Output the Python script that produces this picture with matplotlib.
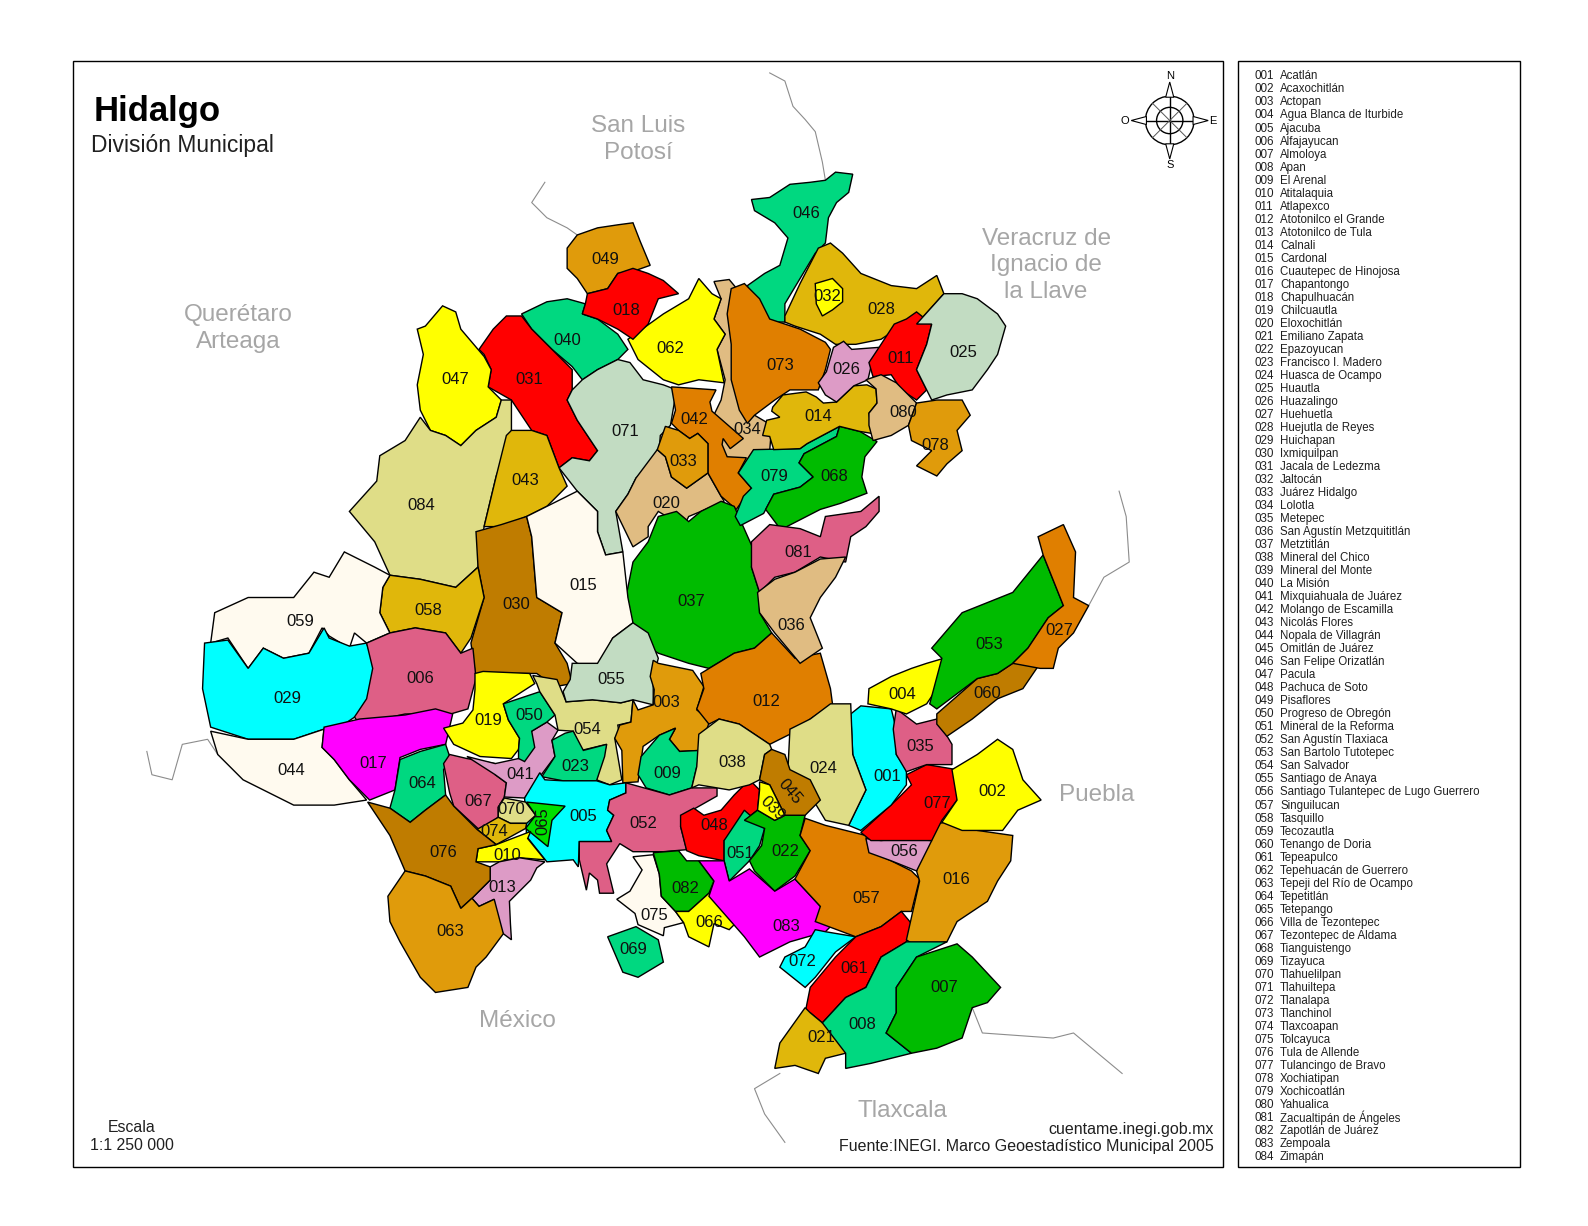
import matplotlib
matplotlib.use('Agg')
import matplotlib.pyplot as plt
from matplotlib.patches import Polygon, Circle, Rectangle

plt.rcParams['font.family'] = ['Liberation Sans', 'DejaVu Sans']

# coordinates are map units (y grows downward)
SHEET_W = 1568
SHEET_H = 1210.6

names = ["Acatlán", "Acaxochitlán", "Actopan", "Agua Blanca de Iturbide", "Ajacuba", "Alfajayucan", "Almoloya",
         "Apan", "El Arenal", "Atitalaquia", "Atlapexco", "Atotonilco el Grande", "Atotonilco de Tula", "Calnali",
         "Cardonal", "Cuautepec de Hinojosa", "Chapantongo", "Chapulhuacán", "Chilcuautla", "Eloxochitlán",
         "Emiliano Zapata", "Epazoyucan", "Francisco I. Madero", "Huasca de Ocampo", "Huautla", "Huazalingo",
         "Huehuetla", "Huejutla de Reyes", "Huichapan", "Ixmiquilpan", "Jacala de Ledezma", "Jaltocán",
         "Juárez Hidalgo", "Lolotla", "Metepec", "San Agustín Metzquititlán", "Metztitlán", "Mineral del Chico",
         "Mineral del Monte", "La Misión", "Mixquiahuala de Juárez", "Molango de Escamilla", "Nicolás Flores",
         "Nopala de Villagrán", "Omitlán de Juárez", "San Felipe Orizatlán", "Pacula", "Pachuca de Soto",
         "Pisaflores", "Progreso de Obregón", "Mineral de la Reforma", "San Agustín Tlaxiaca",
         "San Bartolo Tutotepec", "San Salvador", "Santiago de Anaya", "Santiago Tulantepec de Lugo Guerrero",
         "Singuilucan", "Tasquillo", "Tecozautla", "Tenango de Doria", "Tepeapulco", "Tepehuacán de Guerrero",
         "Tepeji del Río de Ocampo", "Tepetitlán", "Tetepango", "Villa de Tezontepec", "Tezontepec de Aldama",
         "Tianguistengo", "Tizayuca", "Tlahuelilpan", "Tlahuiltepa", "Tlanalapa", "Tlanchinol", "Tlaxcoapan",
         "Tolcayuca", "Tula de Allende", "Tulancingo de Bravo", "Xochiatipan", "Xochicoatlán", "Yahualica",
         "Zacualtipán de Ángeles", "Zapotlán de Juárez", "Zempoala", "Zimapán"]

# municipality outlines
m046 = [(742,197),(760,195),(780,182),(800,180),(815,178),(825,170),(842,172),(838,190),(826,200),(818,215),(815,240),(805,250),(790,275),(775,300),(775,318),(760,318),(740,295),(738,282),(755,270),(770,262),(778,235),(765,220),(745,208)]
m028 = [(775,312),(790,280),(808,245),(820,240),(832,250),(850,270),(880,282),(905,285),(925,272),(932,290),(905,320),(885,325),(870,335),(845,340),(825,340),(810,330),(785,322),(775,318)]
m032 = [(805,280),(822,275),(832,285),(832,298),(822,306),(812,312),(806,300)]
m034 = [(705,278),(720,276),(740,300),(745,410),(762,420),(760,445),(755,460),(735,465),(718,475),(705,470),(700,420),(712,395),(716,375),(708,345),(716,330),(705,315),(712,295)]
m073 = [(722,285),(735,280),(750,295),(760,315),(775,320),(790,325),(815,338),(820,345),(815,365),(808,385),(780,385),(765,395),(745,410),(738,418),(730,405),(722,375),(722,340),(718,310)]
m062 = [(620,335),(655,310),(680,295),(690,275),(703,290),(712,295),(705,315),(716,330),(708,345),(715,378),(690,375),(670,380),(655,375),(630,355)]
m049 = [(560,245),(570,232),(590,225),(610,222),(625,220),(632,238),(642,262),(625,268),(610,270),(600,285),(580,290),(570,275),(560,265)]
m040 = [(515,310),(540,298),(560,295),(578,300),(575,310),(590,315),(610,330),(620,345),(610,355),(590,365),(575,375),(565,362),(545,345),(525,325)]
m018 = [(578,300),(580,290),(600,285),(610,270),(625,265),(640,270),(655,277),(670,290),(650,295),(640,320),(625,335),(610,325),(590,315),(575,310)]
m031 = [(473,345),(487,325),(500,312),(515,312),(525,325),(545,345),(565,365),(565,385),(560,395),(570,415),(590,445),(582,455),(565,452),(552,462),(540,430),(525,425),(505,395),(482,382),(485,365),(478,350)]
m047 = [(412,325),(420,322),(437,302),(450,308),(455,325),(472,345),(478,352),(485,365),(482,382),(495,395),(490,412),(470,425),(455,440),(440,430),(425,425),(415,405),(412,380),(418,350)]
m071 = [(575,375),(590,365),(610,355),(622,358),(635,375),(655,380),(668,385),(662,420),(652,430),(650,455),(628,472),(620,488),(608,505),(615,545),(598,548),(590,525),(590,505),(570,485),(552,462),(565,452),(582,455),(590,445),(570,415),(560,395),(565,385)]
m020 = [(649,444),(657,451),(663,471),(678,482),(699,467),(712,490),(715,495),(692,505),(680,510),(675,520),(650,505),(640,520),(640,530),(625,540),(608,505),(620,488),(628,472)]
m042 = [(663,382),(707,385),(701,397),(703,406),(734,433),(721,443),(714,433),(713,439),(718,451),(737,452),(729,467),(742,482),(727,503),(712,490),(699,467),(699,438),(689,428),(681,433),(670,425),(663,418),(667,405)]
m033 = [(657,421),(670,425),(681,433),(689,428),(699,438),(699,467),(678,482),(663,471),(657,451),(649,444)]
m037 = [(650,510),(668,505),(680,515),(692,505),(712,495),(725,500),(745,545),(742,560),(750,585),(750,605),(762,625),(745,640),(725,645),(700,660),(680,655),(650,645),(625,630),(618,590),(625,555),(640,535)]
m079 = [(744,444),(790,443),(797,438),(829,421),(826,431),(794,448),(789,457),(803,471),(790,481),(764,488),(754,507),(731,519),(726,510),(734,490),(742,482),(729,467)]
m068 = [(829,421),(849,426),(866,436),(854,451),(851,471),(856,487),(830,497),(810,503),(771,523),(756,503),(764,488),(790,481),(803,471),(789,457),(794,448),(826,431)]
m014 = [(763,402),(773,390),(796,387),(806,392),(813,398),(826,397),(843,381),(856,380),(865,384),(866,398),(858,408),(861,428),(849,426),(829,421),(797,438),(790,443),(764,444),(760,431),(753,430),(757,415),(770,412),(762,406)]
m026 = [(823,343),(833,337),(841,345),(868,343),(860,362),(857,375),(843,381),(826,397),(815,390),(808,378),(816,367)]
m011 = [(858,358),(868,343),(883,320),(895,315),(905,308),(920,320),(915,340),(905,365),(915,385),(905,395),(890,385),(880,370),(862,372)]
m080 = [(855,375),(870,370),(885,378),(905,398),(897,420),(880,430),(862,435),(858,420),(858,408),(866,398),(865,384)]
m025 = [(932,290),(950,290),(965,295),(985,310),(993,322),(985,350),(975,365),(960,385),(935,390),(920,395),(905,365),(915,340),(920,320),(905,320)]
m078 = [(905,398),(925,395),(950,395),(958,410),(945,425),(950,445),(935,458),(925,470),(905,460),(920,445),(900,435),(897,420)]
m084 = [(345,505),(372,475),(375,450),(400,435),(415,412),(425,425),(440,430),(455,440),(470,425),(490,412),(495,395),(505,395),(505,430),(490,470),(478,520),(472,560),(450,580),(415,572),(385,568),(370,535)]
m043 = [(500,430),(505,425),(525,425),(540,430),(552,462),(560,480),(540,500),(520,510),(495,520),(478,520),(490,470)]
m030 = [(470,525),(495,518),(520,510),(525,530),(530,590),(555,605),(548,635),(560,655),(565,675),(548,678),(530,665),(500,665),(470,670),(465,635),(478,590),(472,560)]
m015 = [(520,510),(540,500),(570,485),(590,505),(590,525),(598,548),(615,545),(620,590),(625,615),(605,630),(590,660),(570,655),(548,635),(555,605),(530,590),(525,530)]
m058 = [(378,580),(385,568),(415,572),(450,580),(472,560),(478,590),(465,630),(455,645),(440,625),(410,620),(385,625),(375,605)]
m059 = [(208,635),(212,605),(245,590),(290,590),(310,565),(325,570),(340,545),(370,560),(385,568),(378,580),(375,605),(385,625),(362,635),(350,625),(345,640),(325,628),(318,620),(305,645),(280,650),(260,640),(245,660),(225,630)]
m029 = [(202,635),(225,632),(245,660),(260,640),(280,650),(305,645),(320,620),(325,630),(345,638),(362,635),(370,660),(362,700),(340,715),(320,720),(290,730),(245,730),(208,718),(200,680)]
m006 = [(362,635),(385,625),(410,620),(440,625),(455,645),(467,640),(470,670),(462,700),(445,705),(400,705),(355,715),(350,708),(362,690),(368,660)]
m044 = [(208,722),(245,730),(290,730),(320,720),(318,738),(330,750),(345,770),(362,790),(330,795),(290,795),(240,770),(215,745)]
m017 = [(320,718),(355,710),(400,706),(430,700),(447,705),(440,735),(415,740),(395,748),(390,780),(365,790),(345,770),(330,750),(318,738)]
m064 = [(395,750),(415,742),(440,735),(445,750),(438,760),(440,785),(420,800),(405,812),(385,798),(390,780)]
m067 = [(438,754),(444,745),(461,749),(489,754),(489,765),(500,773),(498,787),(492,797),(492,807),(474,820),(448,796),(444,783)]
m041 = [(461,747),(489,754),(512,749),(525,722),(540,713),(551,721),(545,731),(548,747),(536,763),(518,788),(498,787),(500,773),(489,765)]
m019 = [(469,665),(477,663),(523,665),(528,675),(497,695),(502,711),(513,729),(512,740),(505,749),(474,747),(448,735),(438,719),(457,714),(467,701),(469,681)]
m050 = [(497,695),(533,683),(548,706),(540,713),(525,722),(528,738),(518,752),(512,749),(512,740),(513,729),(502,711)]
m054 = [(526,667),(550,671),(559,693),(585,691),(613,694),(625,691),(623,713),(610,716),(612,727),(607,729),(614,770),(602,775),(589,770),(599,735),(574,741),(566,722),(551,721),(548,706),(533,683),(530,675)]
m055 = [(565,655),(590,655),(605,630),(625,615),(640,625),(650,650),(645,670),(645,696),(625,691),(613,694),(585,691),(559,693),(556,683),(563,671)]
m003 = [(645,652),(650,655),(684,662),(695,678),(688,701),(701,711),(691,741),(671,742),(661,730),(667,719),(651,726),(635,737),(630,772),(615,773),(614,741),(607,729),(612,716),(623,713),(625,691),(630,701),(645,696),(646,681),(642,668)]
m012 = [(692,665),(725,645),(745,640),(762,625),(785,650),(810,645),(820,680),(822,695),(800,710),(780,725),(760,735),(730,715),(710,710),(700,715),(688,700),(695,680)]
m023 = [(545,731),(558,724),(566,722),(576,741),(599,735),(597,747),(589,771),(556,771),(535,767),(548,747)]
m009 = [(651,726),(667,719),(661,730),(671,742),(691,741),(688,757),(683,778),(661,785),(638,778),(630,765),(633,747)]
m005 = [(533,763),(538,770),(556,771),(589,771),(602,775),(618,773),(618,783),(602,790),(600,800),(606,805),(599,820),(604,831),(572,831),(571,856),(566,849),(540,851),(520,826),(518,788)]
m070 = [(498,788),(519,792),(529,805),(520,813),(504,813),(492,807),(492,797)]
m065 = [(520,792),(558,796),(545,810),(541,836),(519,818),(529,805)]
m074 = [(492,807),(504,813),(520,813),(519,818),(490,834),(471,819)]
m010 = [(472,838),(490,834),(524,821),(521,828),(538,849),(513,847),(493,851),(470,851)]
m013 = [(484,856),(493,851),(513,847),(538,851),(530,857),(524,869),(503,890),(504,912),(505,928),(497,922),(490,912),(488,888),(473,895),(466,887),(484,869)]
m076 = [(363,792),(385,798),(405,812),(420,800),(440,785),(448,796),(471,819),(490,834),(472,838),(470,851),(484,856),(484,869),(466,887),(455,897),(445,875),(420,865),(400,860),(385,825)]
m063 = [(383,885),(400,860),(420,865),(445,875),(455,897),(466,887),(473,895),(488,888),(497,922),(480,945),(470,955),(462,975),(430,980),(415,965),(395,930),(385,910)]
m052 = [(618,773),(661,785),(683,778),(708,778),(708,786),(678,803),(672,816),(678,839),(655,841),(625,841),(612,833),(599,853),(606,882),(592,882),(590,869),(582,862),(579,879),(572,849),(572,831),(604,831),(599,820),(606,805),(600,800),(602,790),(618,783)]
m075 = [(625,846),(645,844),(651,863),(653,885),(667,900),(675,911),(656,916),(655,924),(630,913),(627,902),(609,888),(622,880),(634,859)]
m069 = [(600,925),(628,915),(650,928),(655,950),(630,965),(615,960)]
m082 = [(645,842),(670,840),(678,850),(690,850),(705,870),(700,882),(680,900),(667,900),(653,885),(651,863)]
m066 = [(667,900),(680,900),(700,882),(715,900),(730,908),(720,918),(705,912),(700,935),(680,925),(675,911)]
m048 = [(672,805),(685,798),(695,805),(712,800),(725,785),(740,770),(750,780),(748,800),(735,810),(715,830),(715,850),(690,845),(678,840),(672,816)]
m051 = [(715,830),(735,800),(755,818),(750,835),(740,850),(720,870),(715,850)]
m022 = [(735,810),(748,800),(765,810),(775,805),(795,805),(790,825),(800,840),(785,865),(765,880),(745,860),(740,850),(752,835),(755,818)]
m083 = [(690,850),(715,850),(720,870),(740,858),(765,880),(785,868),(810,895),(830,905),(815,920),(780,930),(750,945),(735,925),(700,885),(705,870)]
m072 = [(775,945),(795,935),(805,918),(815,920),(845,925),(825,940),(805,965),(795,975),(770,955)]
m057 = [(795,808),(815,815),(855,825),(858,840),(880,850),(900,860),(908,868),(900,900),(890,900),(870,915),(845,925),(805,910),(810,895),(785,868),(800,840),(790,825)]
m061 = [(795,1000),(800,975),(825,945),(845,925),(870,915),(890,900),(900,912),(895,930),(870,945),(855,975),(835,985),(812,1010),(800,1000)]
m016 = [(920,815),(940,810),(965,820),(1000,825),(998,850),(985,870),(975,890),(945,910),(935,930),(905,935),(895,928),(908,870),(905,860)]
m056 = [(855,828),(870,830),(890,828),(920,830),(905,860),(880,850),(858,842)]
m077 = [(850,822),(885,790),(900,775),(895,765),(915,755),(945,760),(945,790),(930,810),(920,830),(880,830),(860,830)]
m002 = [(940,760),(965,745),(985,730),(1000,740),(1010,770),(1028,790),(1005,800),(990,820),(950,820),(930,812),(945,790)]
m001 = [(840,705),(850,697),(880,700),(885,720),(885,745),(895,760),(895,775),(880,795),(850,820),(838,815),(855,780),(842,745)]
m035 = [(885,700),(905,715),(925,710),(940,735),(940,755),(915,755),(895,762),(885,745),(882,720)]
m024 = [(780,720),(800,710),(820,695),(840,695),(842,745),(855,780),(838,815),(815,810),(800,785),(778,760)]
m004 = [(858,680),(880,668),(900,660),(915,655),(932,650),(925,680),(915,695),(895,705),(880,700),(857,695)]
m060 = [(925,705),(965,670),(985,665),(1000,655),(1027,655),(1010,680),(985,690),(960,710),(935,727),(925,715)]
m053 = [(920,640),(950,605),(1000,585),(1030,548),(1050,598),(1035,610),(1015,640),(1000,655),(985,665),(965,670),(925,700),(918,695),(930,650)]
m027 = [(1025,530),(1050,518),(1062,545),(1060,590),(1075,598),(1060,625),(1045,640),(1040,660),(1027,660),(1000,655),(1015,640),(1035,610),(1050,598),(1030,548)]
m081 = [(742,535),(760,518),(790,522),(810,530),(815,510),(850,505),(868,490),(868,505),(855,520),(840,530),(835,555),(810,550),(785,565),(765,570),(750,585),(742,560)]
m036 = [(748,585),(765,572),(785,565),(810,552),(835,550),(825,570),(810,590),(800,610),(812,640),(790,655),(765,625),(750,605)]
m038 = [(690,725),(710,710),(730,715),(760,735),(762,740),(755,745),(750,770),(740,775),(720,780),(708,778),(690,775),(683,778),(688,757)]
m045 = [(762,740),(775,745),(780,760),(800,770),(810,790),(795,805),(775,805),(760,775),(750,770),(755,745)]
m039 = [(750,772),(760,775),(775,805),(765,810),(748,800),(750,780)]
m021 = [(770,1030),(795,995),(800,1000),(812,1010),(830,1012),(835,1040),(815,1045),(808,1060),(785,1052),(765,1055)]
m008 = [(812,1010),(835,985),(855,975),(870,945),(895,930),(935,930),(905,945),(885,975),(885,1000),(875,1020),(900,1040),(860,1050),(835,1055),(835,1040)]
m007 = [(875,1020),(885,1000),(885,975),(905,945),(945,932),(960,945),(988,975),(975,990),(960,995),(950,1025),(925,1035),(900,1040)]

outlines = {'046': m046, '028': m028, '032': m032, '034': m034, '073': m073, '062': m062, '049': m049, '040': m040,
            '018': m018, '031': m031, '047': m047, '071': m071, '020': m020, '042': m042, '033': m033, '037': m037,
            '079': m079, '068': m068, '014': m014, '026': m026, '011': m011, '080': m080, '025': m025, '078': m078,
            '084': m084, '043': m043, '030': m030, '015': m015, '058': m058, '059': m059, '029': m029, '006': m006,
            '044': m044, '017': m017, '064': m064, '067': m067, '041': m041, '019': m019, '050': m050, '054': m054,
            '055': m055, '003': m003, '012': m012, '023': m023, '009': m009, '005': m005, '070': m070, '065': m065,
            '074': m074, '010': m010, '013': m013, '076': m076, '063': m063, '052': m052, '075': m075, '069': m069,
            '082': m082, '066': m066, '048': m048, '051': m051, '022': m022, '083': m083, '072': m072, '057': m057,
            '061': m061, '016': m016, '056': m056, '077': m077, '002': m002, '001': m001, '035': m035, '024': m024,
            '004': m004, '060': m060, '053': m053, '027': m027, '081': m081, '036': m036, '038': m038, '045': m045,
            '039': m039, '021': m021, '008': m008, '007': m007}

label_x = [876,980,658,891,576,415,932,851,659,501,889,757,496,808,576,944,369,618,482,658,811,775,568,813,951,836,1046,870,284,510,523,817,675,738,909,781,683,723,763,560,514,686,519,288,780,796,450,705,598,523,731,635,977,580,604,893,855,423,297,975,843,662,445,417,536,700,472,824,625,505,617,792,770,488,646,438,925,923,765,892,788,677,776,416]
label_y = [766,781,693,685,805,669,974,1011,763,844,353,692,875,410,577,867,753,306,710,496,1023,840,756,758,347,364,622,305,689,596,374,292,455,423,736,617,593,752,798,335,764,413,473,760,781,210,374,814,255,706,842,812,635,719,670,840,886,602,613,684,955,343,919,773,810,910,790,470,937,798,425,948,360,820,903,841,792,439,470,406,545,876,914,498]

color_groups = {
    '#E09B0B': ['049', '003', '063', '033', '078', '016'],
    '#E07F00': ['073', '012', '042', '027', '057'],
    '#BF7C00': ['030', '076', '060', '045'],
    '#E0B70B': ['028', '014', '043', '058', '021', '074'],
    '#E0BC82': ['020', '034', '080', '036'],
    '#DFDD87': ['084', '024', '038', '054', '070'],
    '#C2DCC2': ['071', '025', '055'],
    '#00BB00': ['037', '053', '068', '007', '022', '082'],
    '#00D880': ['046', '040', '079', '050', '023', '009', '064', '008', '069', '051'],
    '#DE5F86': ['006', '081', '067', '052', '035'],
    '#DD9BC6': ['026', '041', '013', '056'],
    '#FF0000': ['018', '031', '011', '048', '061', '077'],
    '#FFFF00': ['047', '062', '019', '004', '002', '010', '032', '066', '039'],
    '#00FFFF': ['029', '001', '005', '072'],
    '#FF00FF': ['017', '083'],
    '#FFFAEF': ['015', '059', '044', '075'],
    '#00E000': ['065'],
}

# state borders that run outside Hidalgo, grey lines
border_a = [(760,72),(775,80),(783,105),(795,118),(805,130),(812,160),(815,178)]
border_b = [(538,180),(525,200),(540,215),(560,225),(570,232)]
border_c = [(1105,485),(1112,510),(1115,555),(1090,570),(1075,598)]
border_d = [(145,742),(150,765),(170,770),(180,735),(205,730),(215,745)]
border_e = [(960,995),(970,1020),(1040,1025),(1060,1020),(1108,1060)]
border_f = [(770,1060),(745,1075),(755,1100),(775,1128)]
borders = [border_a, border_b, border_c, border_d, border_e, border_f]

neighbours = [("San Luis\nPotosí", 630, 138), ("Veracruz de\nIgnacio de\nla Llave", 1033, 262),
              ("Querétaro\nArteaga", 235, 324), ("Puebla", 1083, 785), ("México", 511, 1008), ("Tlaxcala", 891, 1097)]

fig = plt.figure(figsize=(15.88, 12.26), dpi=100)
ax = fig.add_axes([0, 0, 1, 1])
ax.set_xlim(0, SHEET_W)
ax.set_ylim(SHEET_H, 0)
ax.axis('off')

ax.add_patch(Rectangle((72, 60), 1136, 1092, fc='none', ec='black', lw=1))
ax.add_patch(Rectangle((1222, 60), 279, 1092, fc='none', ec='black', lw=1))

for b in borders:
    ax.plot([p[0] for p in b], [p[1] for p in b], color='#8C8C8C', lw=0.8, zorder=1)

fill = {}
for c, codes in color_groups.items():
    for k in codes:
        fill[k] = c

for k, pts in outlines.items():
    ax.add_patch(Polygon(pts, closed=True, fc=fill[k], ec='black', lw=1, zorder=2))

rot = {'065': 90, '045': -50, '039': -45}
for i in range(84):
    k = '%03d' % (i + 1)
    ax.text(label_x[i], label_y[i] + 1, k, ha='center', va='center', fontsize=12, color='#101010',
            rotation=rot.get(k, 0), zorder=4)

ax.text(92, 110, "Hidalgo", fontsize=25, fontweight='bold', ha='left', va='center')
ax.text(90, 144, "División Municipal", fontsize=16.5, ha='left', va='center', color='#202020')
for t, x, y in neighbours:
    ax.text(x, y, t, ha='center', va='center', fontsize=17.5, color='#A6A6A6', linespacing=1.28)

ax.text(130, 1113, "Escala", fontsize=11.4, ha='center', va='center', color='#202020')
ax.text(130, 1131, "1:1 250 000", fontsize=11.4, ha='center', va='center', color='#202020')
ax.text(1198, 1115, "cuentame.inegi.gob.mx", fontsize=11.5, ha='right', va='center', color='#202020')
ax.text(1198, 1132, "Fuente:INEGI. Marco Geoestadístico Municipal 2005", fontsize=11.5, ha='right', va='center', color='#202020')

# legend column
for i, n in enumerate(names):
    y = 74 + i * (1141 - 74) / 83
    ax.text(1239, y, '%03d' % (i + 1), fontsize=8.4, ha='left', va='center_baseline', color='#202020')
    ax.text(1264, y, n, fontsize=8.3, ha='left', va='center_baseline', color='#202020')

# compass
cx, cy = 1155, 119
ax.add_patch(Circle((cx, cy), 24, fc='white', ec='black', lw=1, zorder=3))
ax.add_patch(Circle((cx, cy), 13, fc='none', ec='black', lw=1, zorder=3))
ax.plot([cx - 24, cx + 24], [cy, cy], color='black', lw=1, zorder=3)
ax.plot([cx, cx], [cy - 24, cy + 24], color='black', lw=1, zorder=3)
ax.plot([cx - 17, cx + 17], [cy - 17, cy + 17], color='#555555', lw=0.7, zorder=3)
ax.plot([cx - 17, cx + 17], [cy + 17, cy - 17], color='#555555', lw=0.7, zorder=3)
for sx, sy in [(0, -1), (0, 1), (-1, 0), (1, 0)]:
    tip = (cx + sx * 38, cy + sy * 38)
    a = (cx + sx * 23 + sy * 4, cy + sy * 23 + sx * 4)
    b = (cx + sx * 23 - sy * 4, cy + sy * 23 - sx * 4)
    ax.add_patch(Polygon([tip, a, b], closed=True, fc='white', ec='black', lw=0.8, zorder=3))
ax.text(cx, cy - 44, "N", fontsize=8, ha='center', va='center')
ax.text(cx, cy + 44, "S", fontsize=8, ha='center', va='center')
ax.text(cx - 44, cy, "O", fontsize=8, ha='center', va='center')
ax.text(cx + 43, cy, "E", fontsize=8, ha='center', va='center')

fig.savefig('out.png', dpi=100, facecolor='white')
